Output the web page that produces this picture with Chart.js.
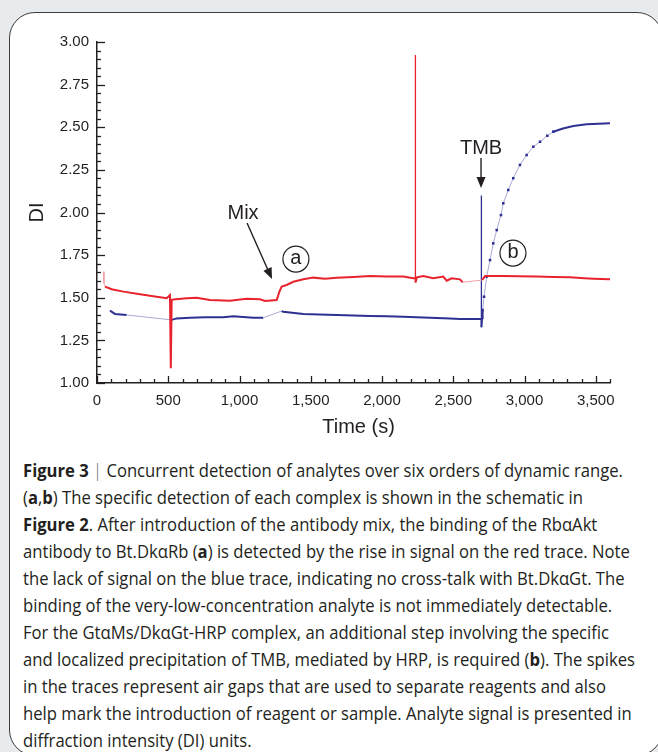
<!DOCTYPE html>
<html>
<head>
<meta charset="utf-8">
<script src="https://cdn.jsdelivr.net/npm/chart.js@4.4.0/dist/chart.umd.min.js"></script>
<style>
  html, body { margin: 0; padding: 0; width: 658px; height: 752px; overflow: hidden; background: #e8ebee; }
  #box {
    position: absolute; left: 9px; top: 12px; width: 654px; height: 744px;
    background: #fff; border: 1.5px solid #3d3d3d; border-radius: 26px; box-sizing: border-box;
  }
  #chart { position: absolute; left: 0; top: 0; }
  #cap {
    position: absolute; left: 23px; top: 456px; color: #231f20;
    font-family: "Open Sans", sans-serif; font-size: 18.5px; line-height: 27px;
    transform-origin: 0 0; white-space: nowrap;
  }
  #cap b { font-weight: 700; }
  #cap .bar { color: #666; font-weight: 300; }
</style>
</head>
<body>
<div id="box"></div>
<canvas id="chart" width="658" height="450"></canvas>
<div id="cap">
  <div id="cap1"><b>Figure 3</b> <span class="bar">|</span> Concurrent detection of analytes over six orders of dynamic range.</div>
  <div>(<b>a</b>,<b>b</b>) The specific detection of each complex is shown in the schematic in</div>
  <div><b>Figure 2</b>. After introduction of the antibody mix, the binding of the RbαAkt</div>
  <div>antibody to Bt.DkαRb (<b>a</b>) is detected by the rise in signal on the red trace. Note</div>
  <div>the lack of signal on the blue trace, indicating no cross-talk with Bt.DkαGt. The</div>
  <div>binding of the very-low-concentration analyte is not immediately detectable.</div>
  <div>For the GtαMs/DkαGt-HRP complex, an additional step involving the specific</div>
  <div>and localized precipitation of TMB, mediated by HRP, is required (<b>b</b>). The spikes</div>
  <div>in the traces represent air gaps that are used to separate reagents and also</div>
  <div>help mark the introduction of reagent or sample. Analyte signal is presented in</div>
  <div>diffraction intensity (DI) units.</div>
</div>
<script>
// tick values
const xTickValues = [0, 500, 1000, 1500, 2000, 2500, 3000, 3500];
const yTickValues = [1.00, 1.25, 1.50, 1.75, 2.00, 2.25, 2.50, 2.75, 3.00];

// red trace (time s, DI)
const redTime = [44, 49, 56, 103, 185, 302, 419, 489, 512, 518, 524, 535, 629, 699, 793, 933, 1050, 1144, 1179, 1261,
  1280, 1296, 1330, 1378, 1448, 1518, 1600, 1682, 1800, 1916, 2030, 2149, 2220, 2233, 2234, 2235, 2245, 2290, 2360, 2430,
  2454, 2489, 2547, 2566, 2704, 2723, 2851, 2960, 3085, 3200, 3319, 3420, 3483, 3600];
const redDI = [1.653, 1.585, 1.565, 1.550, 1.536, 1.520, 1.506, 1.497, 1.516, 1.086, 1.487, 1.490, 1.497, 1.500, 1.487,
  1.483, 1.494, 1.491, 1.481, 1.487, 1.536, 1.565, 1.575, 1.594, 1.608, 1.618, 1.612, 1.618, 1.622, 1.628, 1.625, 1.624,
  1.614, 1.614, 2.924, 1.589, 1.620, 1.628, 1.614, 1.624, 1.600, 1.614, 1.608, 1.591, 1.604, 1.628, 1.628, 1.626, 1.624,
  1.622, 1.620, 1.615, 1.612, 1.608];

// blue trace (time s, DI)
const blueTime = [91, 126, 208, 524, 559, 653, 760, 886, 957, 1097, 1167, 1296, 1307, 1448, 1560, 1682, 1800, 1916, 2030,
  2149, 2337, 2477, 2547, 2696, 2697, 2698, 2702, 2706, 2716, 2735, 2758, 2781, 2805, 2835, 2851, 2886, 2921, 2968, 3015,
  3062, 3109, 3160, 3202, 3270, 3343, 3437, 3520, 3600];
const blueDI = [1.424, 1.405, 1.399, 1.370, 1.379, 1.383, 1.385, 1.385, 1.391, 1.383, 1.383, 1.422, 1.418, 1.405, 1.402,
  1.399, 1.396, 1.393, 1.391, 1.389, 1.383, 1.379, 1.375, 1.375, 2.100, 1.327, 1.380, 1.428, 1.506, 1.624, 1.721, 1.819,
  1.897, 1.985, 2.054, 2.132, 2.201, 2.279, 2.337, 2.386, 2.415, 2.450, 2.474, 2.493, 2.507, 2.517, 2.521, 2.523];

// stretches where the trace is only a thin joining line
const redGaps = [[44, 56], [2566, 2704]];
const blueGaps = [[208, 524], [1167, 1296], [2706, 3202]];
const blueDotted = [2706, 3202];

const RED = '#e8232d', RED_LT = '#f3a0a4';
const BLUE = '#2e3192', BLUE_LT = '#a9abd6';
const INK = '#231f20';
const FONT = '"Liberation Sans", Arial, sans-serif';

function inGap(ctx, gaps) {
  const a = ctx.p0.parsed.x, b = ctx.p1.parsed.x;
  return gaps.some(g => a >= g[0] && b <= g[1]);
}
// air-gap spikes are drawn as thin vertical strokes
function isSpike(ctx) {
  return ctx.p1.parsed.x - ctx.p0.parsed.x <= 2 && Math.abs(ctx.p1.parsed.y - ctx.p0.parsed.y) > 0.3;
}
function segWidth(gaps) {
  return ctx => inGap(ctx, gaps) ? 1 : (isSpike(ctx) ? 1.3 : undefined);
}

function arrow(c, x1, y1, x2, y2) {
  const ang = Math.atan2(y2 - y1, x2 - x1), hl = 11, hw = 4.5;
  const bx = x2 - hl * Math.cos(ang), by = y2 - hl * Math.sin(ang);
  c.beginPath(); c.moveTo(x1, y1); c.lineTo(bx, by); c.stroke();
  c.beginPath();
  c.moveTo(x2, y2);
  c.lineTo(bx + hw * Math.sin(ang), by - hw * Math.cos(ang));
  c.lineTo(bx - hw * Math.sin(ang), by + hw * Math.cos(ang));
  c.closePath(); c.fill();
}

const extras = {
  id: 'extras',
  afterDraw(chart) {
    const c = chart.ctx, xs = chart.scales.x, ys = chart.scales.y, area = chart.chartArea;
    c.save();
    c.strokeStyle = INK; c.fillStyle = INK; c.lineWidth = 1.3;
    // inward ticks
    for (let t = 0; t <= 3600; t += 100) {
      const px = Math.round(xs.getPixelForValue(t)) + 0.5, len = t % 500 === 0 ? 7 : 4;
      c.beginPath(); c.moveTo(px, area.bottom); c.lineTo(px, area.bottom - len); c.stroke();
    }
    for (let i = 0; i <= 40; i++) {
      const py = Math.round(ys.getPixelForValue(1 + i * 0.05)) + 0.5, len = i % 5 === 0 ? 8 : 4;
      c.beginPath(); c.moveTo(area.left, py); c.lineTo(area.left + len, py); c.stroke();
    }
    // axis titles
    c.font = '20px ' + FONT; c.textAlign = 'center'; c.textBaseline = 'middle';
    c.fillText('Time (s)', (area.left + area.right) / 2 + 5, 427);
    c.save(); c.translate(37, ys.getPixelForValue(2.0)); c.rotate(-Math.PI / 2); c.fillText('DI', 0, 0); c.restore();
    // annotations
    const X = v => xs.getPixelForValue(v), Y = v => ys.getPixelForValue(v);
    c.fillText('Mix', X(1025), Y(1.997));
    c.lineWidth = 1.4;
    arrow(c, X(1053), Y(1.938), X(1228), Y(1.610));
    c.fillText('TMB', X(2695), Y(2.378));
    arrow(c, X(2695), Y(2.320), X(2695), Y(2.144));
    [['a', 1396, 1.727], ['b', 2919, 1.762]].forEach(([l, t, v]) => {
      c.beginPath(); c.arc(X(t), Y(v), 13, 0, Math.PI * 2); c.lineWidth = 1.2; c.stroke();
      c.fillText(l, X(t), Y(v) - 1);
    });
    c.restore();
  }
};

new Chart(document.getElementById('chart'), {
  type: 'line',
  data: {
    datasets: [{
      label: 'Red',
      data: redTime.map((t, i) => ({ x: t, y: redDI[i] })),
      borderColor: RED, borderWidth: 2, pointRadius: 0, tension: 0,
      segment: {
        borderColor: ctx => inGap(ctx, redGaps) ? RED_LT : undefined,
        borderWidth: segWidth(redGaps)
      }
    }, {
      label: 'Blue',
      data: blueTime.map((t, i) => ({ x: t, y: blueDI[i] })),
      borderColor: BLUE, borderWidth: 2, tension: 0,
      pointStyle: 'rect', pointBorderWidth: 0, backgroundColor: BLUE,
      pointRadius: ctx => {
        const t = blueTime[ctx.dataIndex];
        return t >= blueDotted[0] && t <= blueDotted[1] ? 1.8 : 0;
      },
      segment: {
        borderColor: ctx => inGap(ctx, blueGaps) ? BLUE_LT : undefined,
        borderWidth: segWidth(blueGaps)
      }
    }]
  },
  options: {
    responsive: false,
    animation: false,
    devicePixelRatio: 1,
    layout: { padding: { left: 0, right: 48, top: 42, bottom: 0 } },
    plugins: { legend: { display: false }, tooltip: { enabled: false } },
    scales: {
      x: {
        type: 'linear', min: 0, max: 3600,
        grid: { display: false, drawTicks: false },
        border: { display: true, color: INK, width: 1.5 },
        afterBuildTicks: s => { s.ticks = xTickValues.map(v => ({ value: v })); },
        afterFit: s => { s.height = 67; },
        ticks: {
          padding: 9, color: INK, font: { family: FONT, size: 15 }, maxRotation: 0,
          callback: v => v.toLocaleString('en-US')
        }
      },
      y: {
        min: 1, max: 3,
        grid: { display: false, drawTicks: false },
        border: { display: true, color: INK, width: 1.5 },
        afterBuildTicks: s => { s.ticks = yTickValues.map(v => ({ value: v })); },
        afterFit: s => { s.width = 97; },
        ticks: {
          padding: 8, color: INK, font: { family: FONT, size: 15 },
          callback: v => v.toFixed(2)
        }
      }
    }
  },
  plugins: [extras]
});

// squeeze the caption so its first line matches the printed width
const cap = document.getElementById('cap');
const w1 = document.getElementById('cap1').getBoundingClientRect().width;
cap.style.transform = 'scaleX(' + (612 / w1) + ')';
</script>
</body>
</html>
